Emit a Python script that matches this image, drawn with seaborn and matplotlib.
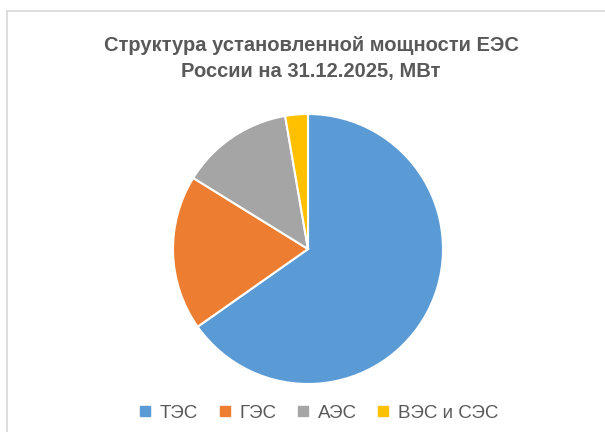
import matplotlib
matplotlib.use("Agg")
import matplotlib.pyplot as plt
from matplotlib.lines import Line2D
import seaborn as sns

# данные (МВт), оценка по рисунку
categories = ["ТЭС", "ГЭС", "АЭС", "ВЭС и СЭС"]
capacity_mw = [168500, 48000, 34800, 7000]
colors = ["#5B9BD5", "#ED7D31", "#A5A5A5", "#FFC000"]

sns.set_style("white")
plt.rcParams["font.family"] = ["Liberation Sans Narrow", "Liberation Sans", "DejaVu Sans"]

fig = plt.figure(figsize=(6.05, 4.32), dpi=100)
W, H = 605, 432

# рамка области диаграммы (видны только левая и верхняя стороны)
fig.add_artist(Line2D([6.5 / W, 6.5 / W], [0, 1 - 10.5 / H], color="#D9D9D9", lw=1.2))
fig.add_artist(Line2D([6.5 / W, 1], [1 - 10.5 / H, 1 - 10.5 / H], color="#D9D9D9", lw=1.2))

ax = fig.add_axes([173 / W, 48 / H, 270 / W, 270 / H])
ax.pie(capacity_mw, colors=colors, startangle=90, counterclock=False,
       wedgeprops={"edgecolor": "white", "linewidth": 1.5})
ax.set_xlim(-1, 1)
ax.set_ylim(-1, 1)
ax.set_aspect("equal")

fig.text(311 / W, 1 - 58.5 / H, "Структура установленной мощности ЕЭС\nРоссии на 31.12.2025, МВт",
         ha="center", va="center", fontsize=14.5, fontweight="bold", color="#595959",
         linespacing=1.45)

handles = [Line2D([0], [0], marker="s", linestyle="", markersize=7,
                  markerfacecolor=c, markeredgecolor=c) for c in colors]
fig.legend(handles, categories, loc="center", bbox_to_anchor=(317 / W, 19 / H),
           ncol=4, frameon=False, fontsize=13.5, labelcolor="#595959",
           handletextpad=0.3, columnspacing=0.9, handlelength=1.0)

plt.savefig("out.png", dpi=100)
